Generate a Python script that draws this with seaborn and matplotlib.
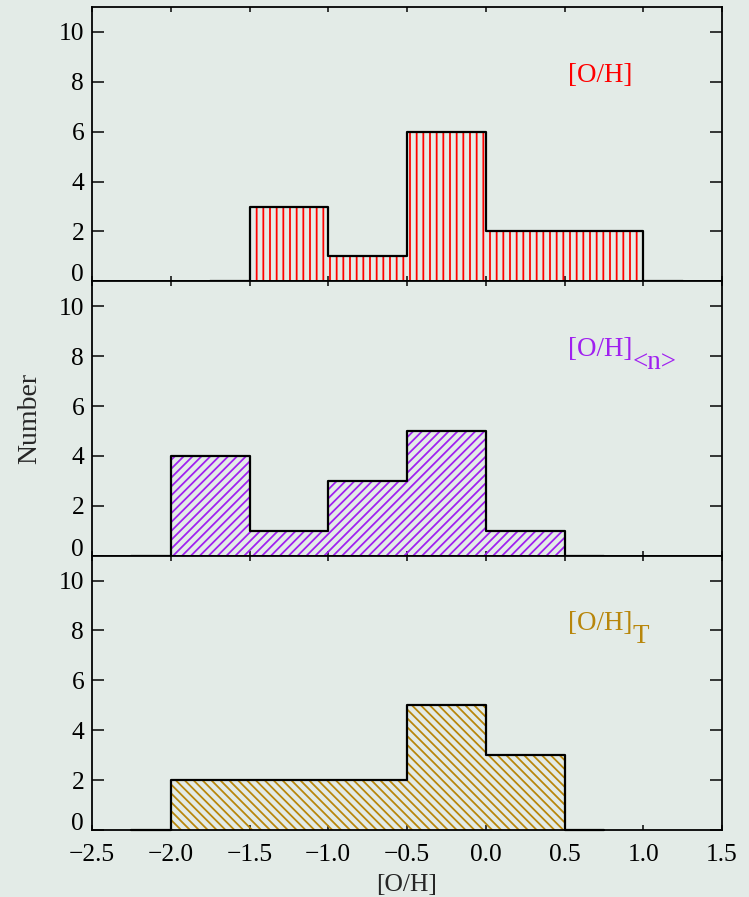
import numpy as np
import pandas as pd
import matplotlib
matplotlib.use("Agg")
import matplotlib.pyplot as plt
import seaborn as sns

# Histogram bin edges and counts for each abundance estimate
oh_edges = [-1.5, -1.0, -0.5, 0.0, 0.5, 1.0]
oh_counts = [3, 1, 6, 2, 2]

ohn_edges = [-2.0, -1.5, -1.0, -0.5, 0.0, 0.5]
ohn_counts = [4, 1, 3, 5, 1]

oht_edges = [-2.0, -1.5, -1.0, -0.5, 0.0, 0.5]
oht_counts = [2, 2, 2, 5, 3]

panel_titles = ["[O/H]", "[O/H]", "[O/H]"]
panel_subs = ["", "<n>", "T"]
panel_colors = ["#ff0000", "#a020f0", "#b8860b"]
panel_hatches = ["||", "///", "\\\\\\"]

x_ticks = [-2.5, -2.0, -1.5, -1.0, -0.5, 0.0, 0.5, 1.0, 1.5]
y_ticks = [0, 2, 4, 6, 8, 10]

BG = "#e3ebe7"
DPI = 80

sns.set_theme(style="ticks", rc={
    "figure.facecolor": BG,
    "axes.facecolor": BG,
    "axes.edgecolor": "black",
    "axes.linewidth": 1.6,
    "hatch.linewidth": 1.6,
    "xtick.direction": "in",
    "ytick.direction": "in",
    "xtick.color": "black",
    "ytick.color": "black",
})
plt.rcParams["font.family"] = ["Liberation Serif", "DejaVu Serif"]
plt.rcParams["axes.unicode_minus"] = True


def padded(edges, counts):
    """Add a half-width empty bin at both ends of the histogram."""
    half = (edges[1] - edges[0]) / 2.0
    e = [edges[0] - half] + list(edges) + [edges[-1] + half]
    c = [0] + list(counts) + [0]
    centers = [(e[k] + e[k + 1]) / 2.0 for k in range(len(c))]
    return [float(v) for v in e], pd.DataFrame({"oh": centers, "n": c})


fig, axes = plt.subplots(3, 1, figsize=(749 / DPI, 897 / DPI), dpi=DPI, sharex=True)
fig.subplots_adjust(left=92 / 749, right=722 / 749, top=1 - 7 / 897,
                    bottom=1 - 830 / 897, hspace=0)

datasets = [(oh_edges, oh_counts), (ohn_edges, ohn_counts), (oht_edges, oht_counts)]

for i, ax in enumerate(axes):
    edges, counts = datasets[i]
    bins, df = padded(edges, counts)
    col = panel_colors[i]

    # hatched fill of the bars
    sns.histplot(data=df, x="oh", weights="n", bins=bins, element="bars",
                 fill=True, facecolor="none", edgecolor=col, linewidth=0,
                 hatch=panel_hatches[i], ax=ax, zorder=2)
    # black outline of the histogram, running on past the outer bins
    sns.histplot(data=df, x="oh", weights="n", bins=bins, element="step",
                 fill=False, color="black", linewidth=2.0, ax=ax, zorder=4,
                 clip_on=False)

    ax.set_xlim(-2.5, 1.5)
    ax.set_ylim(0, 11)
    ax.set_xticks(x_ticks)
    ax.set_yticks(y_ticks)
    ax.set_ylabel("")
    ax.set_xlabel("")
    ax.tick_params(axis="x", which="major", top=True, bottom=True, length=4.5,
                   width=1.35, labelsize=23, pad=13)
    ax.tick_params(axis="y", which="major", left=True, right=True, length=10.8,
                   width=1.35, labelsize=23, pad=7)
    for s in ax.spines.values():
        s.set_visible(True)
        s.set_linewidth(1.6)

    ax.text(0.52, 8.0, panel_titles[i], color=col, fontsize=24.3,
            ha="left", va="baseline")
    if panel_subs[i]:
        ax.text(0.93, 7.5, panel_subs[i], color=col, fontsize=24.3,
                ha="left", va="baseline")

    if i < 2:
        ax.tick_params(axis="x", labelbottom=False)

axes[-1].set_xticklabels([f"{v:.1f}".replace("-", "\u2212") for v in x_ticks])
axes[-1].set_xlabel("[O/H]", fontsize=23, labelpad=7)
fig.text(30 / 749, 1 - 418 / 897, "Number", rotation=90, fontsize=25,
         ha="center", va="center")

# the zero label of each panel sits on the baseline, clear of the panel below
fig.canvas.draw()
for ax in axes:
    ax.get_yticklabels()[0].set_verticalalignment("baseline")

fig.savefig("out.png", dpi=DPI, facecolor=fig.get_facecolor())
